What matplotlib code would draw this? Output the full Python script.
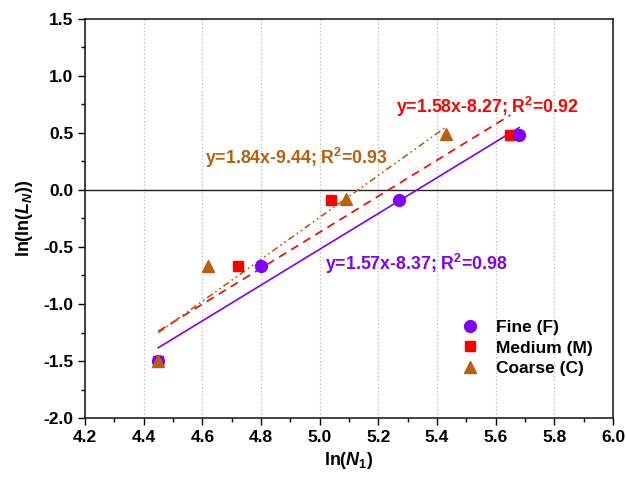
import matplotlib
matplotlib.use("Agg")
import matplotlib.pyplot as plt
import numpy as np

plt.rcParams['font.family'] = ['Liberation Sans', 'DejaVu Sans']
plt.rcParams['font.weight'] = 'bold'
plt.rcParams['mathtext.fontset'] = 'custom'
plt.rcParams['mathtext.rm'] = 'Liberation Sans:bold'
plt.rcParams['mathtext.it'] = 'Liberation Sans:bold:italic'
plt.rcParams['mathtext.bf'] = 'Liberation Sans:bold'

# Data
fine_x = [4.45, 4.80, 5.27, 5.68]
fine_y = [-1.50, -0.67, -0.09, 0.48]
medium_x = [4.45, 4.72, 5.04, 5.65]
medium_y = [-1.50, -0.67, -0.09, 0.48]
coarse_x = [4.45, 4.62, 5.09, 5.43]
coarse_y = [-1.50, -0.67, -0.08, 0.49]

fits = {
    'Fine (F)': (1.57, -8.37, 0.98),
    'Medium (M)': (1.58, -8.27, 0.92),
    'Coarse (C)': (1.84, -9.44, 0.93),
}

c_fine = '#7F00FF'
c_med = '#FF0000'
c_coarse = '#B8600E'

fig = plt.figure(figsize=(6.27, 4.78), dpi=100)
ax = fig.add_axes([0.1356, 0.1255, 0.8421, 0.8348])

# vertical dotted grid
ax.grid(axis='x', color='#BBBBBB', linestyle=(0, (1, 2)), linewidth=0.9)
ax.set_axisbelow(True)
ax.axhline(0, color='#222222', linewidth=1.0, zorder=1)

def fit_line(xs, m, b):
    xx = np.array([min(xs), max(xs)])
    return xx, m * xx + b

xx, yy = fit_line(fine_x, *fits['Fine (F)'][:2])
ax.plot(xx, yy, color=c_fine, lw=1.2, zorder=2)
xx, yy = fit_line(medium_x, *fits['Medium (M)'][:2])
ax.plot(xx, yy, color=c_med, lw=1.2, linestyle=(0, (5, 3.5)), zorder=2)
xx, yy = fit_line(coarse_x, *fits['Coarse (C)'][:2])
ax.plot(xx, yy, color=c_coarse, lw=1.2, linestyle=(0, (4, 2, 1, 2, 1, 2)), zorder=2)

ax.plot(medium_x, medium_y, 's', color=c_med, ms=7.5, zorder=3, label='Medium (M)')
ax.plot(fine_x, fine_y, 'o', color=c_fine, ms=8.5, zorder=4, label='Fine (F)')
ax.plot(coarse_x, coarse_y, '^', color=c_coarse, ms=9, zorder=5, label='Coarse (C)')

h, l = ax.get_legend_handles_labels()
order = [1, 0, 2]
ax.legend([h[i] for i in order], [l[i] for i in order], loc='lower right',
          bbox_to_anchor=(0.985, 0.075), frameon=False, fontsize=12.5,
          handletextpad=0.5, labelspacing=0.3, borderaxespad=0.3)

fs_ann = 12.8
ax.text(5.572, 0.73, 'y=1.58x-8.27; R$^{2}$=0.92', color=c_med, fontsize=fs_ann,
        fontweight='bold', ha='center', va='center')
ax.text(4.92, 0.28, 'y=1.84x-9.44; R$^{2}$=0.93', color=c_coarse, fontsize=fs_ann,
        fontweight='bold', ha='center', va='center')
ax.text(5.33, -0.65, 'y=1.57x-8.37; R$^{2}$=0.98', color=c_fine, fontsize=fs_ann,
        fontweight='bold', ha='center', va='center')

ax.set_xlim(4.2, 6.0)
ax.set_ylim(-2.0, 1.5)
ax.set_xticks(np.arange(4.2, 6.01, 0.2))
ax.set_yticks(np.arange(-2.0, 1.51, 0.5))
ax.set_xticks(np.arange(4.3, 6.0, 0.2), minor=True)
ax.set_yticks(np.arange(-1.75, 1.5, 0.5), minor=True)
ax.xaxis.set_major_formatter(matplotlib.ticker.FormatStrFormatter('%.1f'))
ax.yaxis.set_major_formatter(matplotlib.ticker.FormatStrFormatter('%.1f'))
ax.tick_params(which='major', direction='out', length=5, width=1.0, labelsize=12.5)
ax.tick_params(which='minor', direction='out', length=3, width=1.0)
for lab in ax.get_xticklabels() + ax.get_yticklabels():
    lab.set_fontweight('bold')
for s in ax.spines.values():
    s.set_linewidth(1.2)
    s.set_color('#222222')

ax.set_xlabel(r'ln($\mathit{N_1}$)', fontsize=13, fontweight='bold', labelpad=4)
ax.set_ylabel(r'ln(ln($\mathit{L_N}$))', fontsize=13, fontweight='bold', labelpad=6)

fig.savefig('out.png', dpi=100)
